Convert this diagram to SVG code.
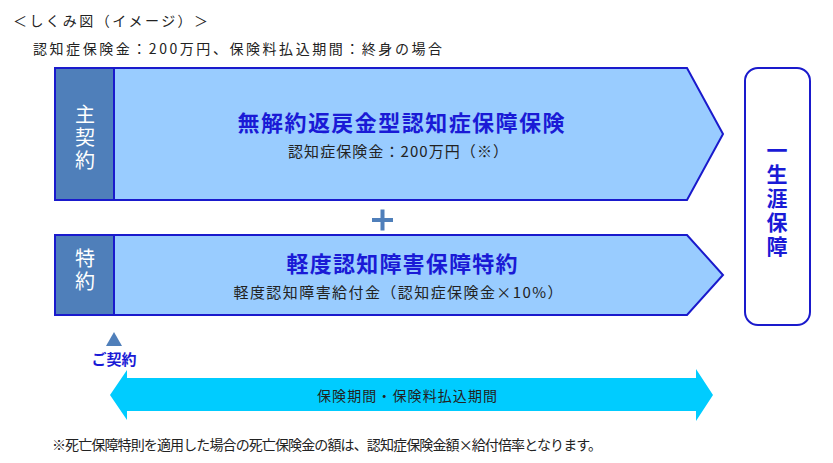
<svg xmlns="http://www.w3.org/2000/svg" width="833" height="463" viewBox="0 0 833 463">
<style>
text{font-family:"Noto Sans CJK JP","Noto Sans",sans-serif;}
.box{fill:#99ccff;stroke:#1a1acc;stroke-width:2;}
.lab{fill:#4f7fba;stroke:#1a1acc;stroke-width:2;}
.lt{fill:#fff;font-size:20px;text-anchor:middle;writing-mode:vertical-rl;letter-spacing:3px;}
.title{fill:#1a1ad6;font-size:22px;font-weight:bold;text-anchor:middle;}
.sub{fill:#222;font-size:15px;text-anchor:middle;}
.note{fill:#222;font-size:14px;}
.vt{fill:#1a1ad6;font-size:21px;font-weight:bold;text-anchor:middle;writing-mode:vertical-rl;letter-spacing:3px;}
</style>
<g id="header">
<text x="13" y="26" class="note" font-size="15" textLength="195">＜しくみ図（イメージ）＞</text>
<text x="33" y="54" class="note" font-size="14.5" textLength="409">認知症保険金：200万円、保険料払込期間：終身の場合</text>
</g>
<g id="main">
<path class="box" d="M55 68 H687 L723 134 L687 200 H55 Z"/>
<rect class="lab" x="55" y="68" width="59" height="132"/>
<text class="lt" x="85" y="139">主契約</text>
<text class="title" x="401" y="131" textLength="327">無解約返戻金型認知症保障保険</text>
<text class="sub" x="398" y="157" textLength="220">認知症保険金：200万円（※）</text>
</g>
<g id="plus">
<path d="M372 220 H393 M382.5 209.5 V230.5" stroke="#4f7fba" stroke-width="4"/>
</g>
<g id="rider">
<path class="box" d="M55 235 H687 L723 275 L687 315 H55 Z"/>
<rect class="lab" x="55" y="235" width="59" height="80"/>
<text class="lt" x="85" y="271">特約</text>
<text class="title" x="402" y="272" textLength="231">軽度認知障害保障特約</text>
<text class="sub" x="398" y="298" textLength="329">軽度認知障害給付金（認知症保険金×10%）</text>
</g>
<g id="lifetime">
<rect x="745" y="68" width="65" height="257" rx="13" fill="#fff" stroke="#1a1acc" stroke-width="2"/>
<text class="vt" x="777" y="200">一生涯保障</text>
</g>
<g id="start">
<path d="M114 332 L122 346 H106 Z" fill="#4f7fba"/>
<text x="114" y="365" fill="#1a1ad6" font-size="15" font-weight="bold" text-anchor="middle">ご契約</text>
</g>
<g id="connectors">
<path d="M110 395 L127 370 V378 H696 V369 L713 395 L696 421 V411 H127 V420 Z" fill="#00ccff"/>
<text x="407" y="401" fill="#222" font-size="14" text-anchor="middle" textLength="180">保険期間・保険料払込期間</text>
</g>
<g id="footnote">
<text x="52" y="450" class="note" font-size="12.5" textLength="550">※死亡保障特則を適用した場合の死亡保険金の額は、認知症保険金額×給付倍率となります。</text>
</g>
</svg>
